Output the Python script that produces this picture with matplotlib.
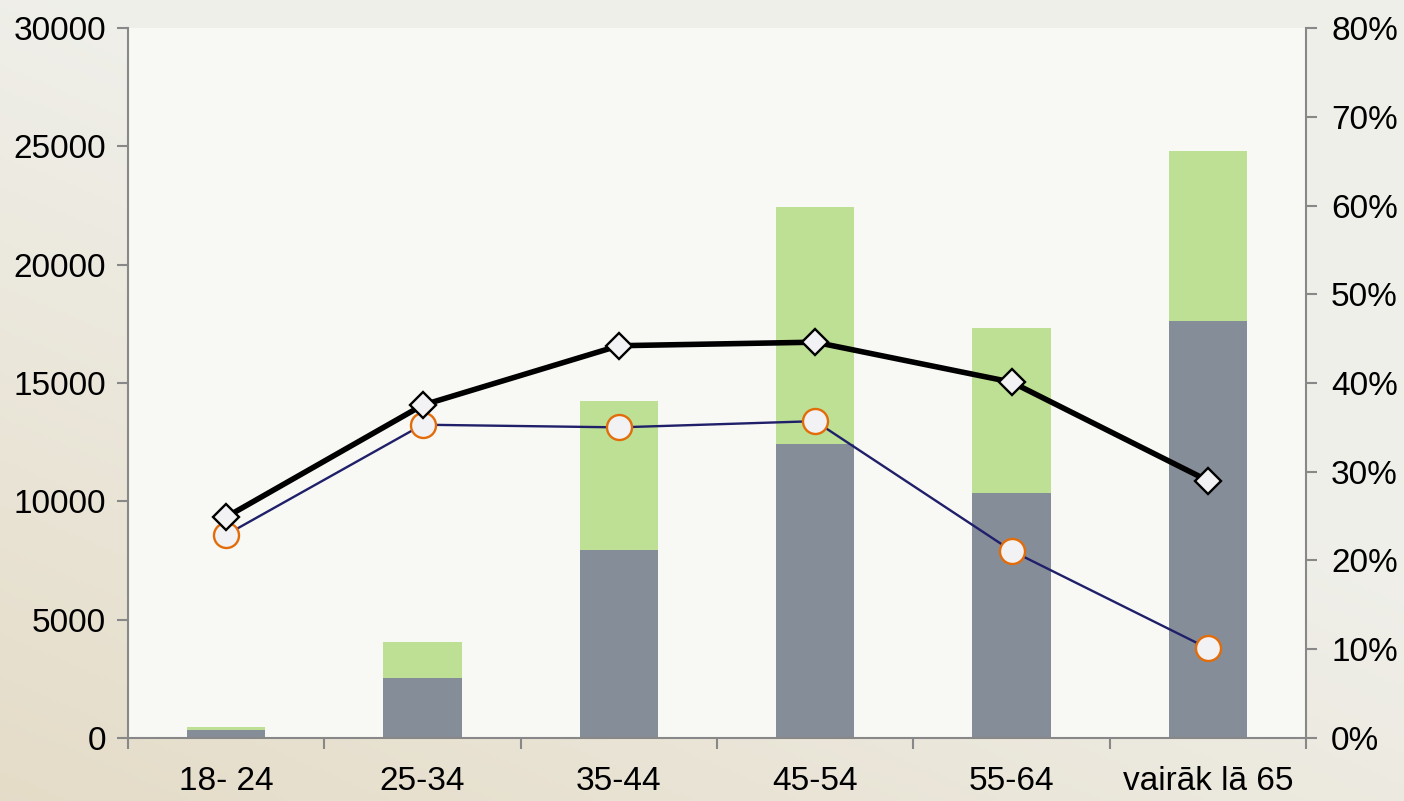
import numpy as np
import matplotlib
matplotlib.use("Agg")
import matplotlib.pyplot as plt
from matplotlib.ticker import PercentFormatter

plt.rcParams['font.family'] = ['Liberation Sans', 'DejaVu Sans']

categories = ["18- 24", "25-34", "35-44", "45-54", "55-64", "vairāk lā 65"]
gray_vals = [340, 2540, 7940, 12420, 10350, 17620]
green_vals = [125, 1520, 6300, 10010, 6970, 7180]
black_pct = [24.9, 37.5, 44.2, 44.6, 40.1, 29.0]
blue_pct = [22.9, 35.3, 35.0, 35.7, 21.1, 10.1]

fig = plt.figure(figsize=(14.04, 8.01), dpi=100)

# background: beige gradient standing in for the photo
bg = fig.add_axes([0, 0, 1, 1], zorder=-10)
yy, xx = np.mgrid[0:1:200j, 0:1:300j]  # yy = 0 at top row
warm = np.clip(yy * 0.8 + (1 - xx) * 0.6 - 0.55, 0, 1)
top = np.array([0.94, 0.94, 0.92])
low = np.array([0.89, 0.85, 0.76])
img = top[None, None, :] * (1 - warm[..., None]) + low[None, None, :] * warm[..., None]
bg.imshow(img, extent=[0, 1, 0, 1], aspect='auto', origin='upper')
bg.axis('off')

ax = fig.add_axes([0.0912, 0.0787, 0.8390, 0.8863])
ax.set_facecolor('#f8f8f4')
x = np.arange(len(categories))
ax.bar(x, gray_vals, width=0.4, color='#858d98', zorder=2)
ax.bar(x, green_vals, bottom=gray_vals, width=0.4, color='#bde094', zorder=2)
ax.set_xlim(-0.5, len(categories) - 0.5)
ax.set_ylim(0, 30000)
ax.set_yticks(range(0, 30001, 5000))
ax.set_xticks(x)
ax.set_xticklabels(categories)
ax.set_xticks(np.arange(-0.5, len(categories), 1), minor=True)
ax.tick_params(axis='x', which='major', length=0, pad=20, labelsize=24)
ax.tick_params(axis='x', which='minor', length=8, width=1.5, color='#888888', direction='out')
ax.tick_params(axis='y', length=8, width=1.5, color='#888888', labelsize=24, pad=8)
for s in ['top', 'right']:
    ax.spines[s].set_visible(False)
for s in ['left', 'bottom']:
    ax.spines[s].set_color('#888888')
    ax.spines[s].set_linewidth(1.5)

ax2 = ax.twinx()
ax2.set_ylim(0, 80)
ax2.set_yticks(range(0, 81, 10))
ax2.yaxis.set_major_formatter(PercentFormatter(decimals=0))
ax2.tick_params(axis='y', length=8, width=1.5, color='#888888', labelsize=24, pad=10)
for s in ['top', 'left', 'bottom']:
    ax2.spines[s].set_visible(False)
ax2.spines['right'].set_color('#888888')
ax2.spines['right'].set_linewidth(1.5)

ax2.plot(x, blue_pct, color='#1f1f6a', lw=1.7, marker='o', markersize=18,
         markerfacecolor='#f2f2f4', markeredgecolor='#e36c0a', markeredgewidth=1.7, zorder=3)
ax2.plot(x, black_pct, color='black', lw=4, marker='D', markersize=13,
         markerfacecolor='#f2f2f4', markeredgecolor='black', markeredgewidth=1.7, zorder=4)

fig.savefig("out.png", dpi=100)
